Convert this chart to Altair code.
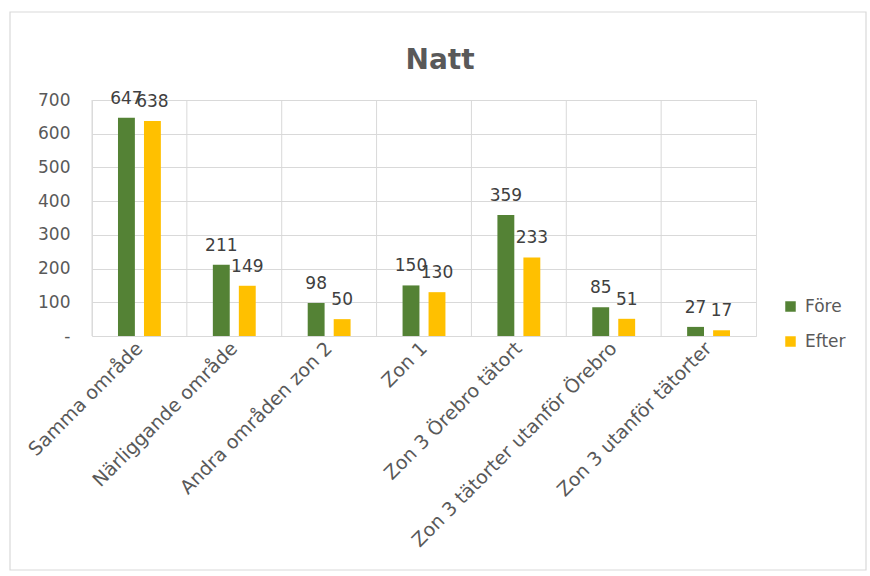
import altair as alt
import pandas as pd

categories = ["Samma område", "Närliggande område", "Andra områden zon 2", "Zon 1",
              "Zon 3 Örebro tätort", "Zon 3 tätorter utanför Örebro", "Zon 3 utanför tätorter"]
fore = [647, 211, 98, 150, 359, 85, 27]
efter = [638, 149, 50, 130, 233, 51, 17]
series = ["Före", "Efter"]
colors = ["#548235", "#FFC000"]
title_text = "Natt"

rows = []
for c, f, e in zip(categories, fore, efter):
    rows.append({"kat": c, "serie": "Före", "värde": f})
    rows.append({"kat": c, "serie": "Efter", "värde": e})
df = pd.DataFrame(rows)
cat_df = pd.DataFrame({"kat": categories})
one_df = pd.DataFrame({"t": [title_text]})

FONT = "DejaVu Sans"
GRAY = "#595959"

xscale = alt.Scale(domain=categories, paddingInner=0, paddingOuter=0)
yscale = alt.Scale(domain=[0, 700])
xoff = alt.XOffset("serie:N", sort=series,
                   scale=alt.Scale(domain=series, paddingInner=0.35, paddingOuter=1.0))

x_axis = alt.Axis(labelAngle=-45, labelAlign="right", labelBaseline="middle",
                  labelFontSize=19, labelColor=GRAY, labelFont=FONT,
                  ticks=False, domain=False, grid=False, labelPadding=9,
                  labelLimit=400)
y_axis = alt.Axis(values=[0, 100, 200, 300, 400, 500, 600, 700],
                  labelExpr="datum.value == 0 ? '-' : datum.label",
                  labelFontSize=17, labelColor=GRAY, labelFont=FONT,
                  ticks=False, domain=False, gridColor="#d9d9d9", labelPadding=22)

frame = alt.Chart(one_df).mark_rect(fill="white", fillOpacity=0, stroke="#d9d9d9",
                                    strokeWidth=1.2, clip=False).encode(
    x=alt.value(-82), x2=alt.value(774), y=alt.value(-88), y2=alt.value(470)
)

title = alt.Chart(one_df).mark_text(fontSize=28, font=FONT, fontWeight="bold", color=GRAY,
                                    align="center", baseline="alphabetic").encode(
    x=alt.value(348), y=alt.value(-31), text="t:N"
)

grid = alt.Chart(cat_df).mark_rule(color="#d9d9d9", strokeWidth=1).encode(
    x=alt.X("kat:N", sort=categories, scale=xscale, bandPosition=0, title=None, axis=x_axis)
)

bars = alt.Chart(df).mark_bar().encode(
    x=alt.X("kat:N", sort=categories, scale=xscale, title=None, axis=x_axis),
    xOffset=xoff,
    y=alt.Y("värde:Q", scale=yscale, title=None, axis=y_axis),
    color=alt.Color("serie:N", sort=series, scale=alt.Scale(domain=series, range=colors),
                    legend=alt.Legend(title=None, orient="none", legendX=690, legendY=198,
                                      symbolType="square", symbolSize=110, symbolStrokeWidth=0,
                                      labelFontSize=17, labelColor=GRAY, labelFont=FONT,
                                      rowPadding=17, labelOffset=6)),
)

labels = alt.Chart(df).mark_text(dy=-19, fontSize=17, color="#404040", font=FONT).encode(
    x=alt.X("kat:N", sort=categories, scale=xscale, title=None, axis=x_axis),
    xOffset=xoff,
    y=alt.Y("värde:Q", scale=yscale, title=None, axis=y_axis),
    text=alt.Text("värde:Q"),
)

chart = alt.layer(grid, bars, labels, frame, title).properties(
    width=664, height=236,
    padding={"left": 92, "top": 100, "right": 114, "bottom": 240},
    autosize=alt.AutoSizeParams(type="none"),
).configure_view(fill="#f3f3f3", stroke="#d9d9d9").configure(background="white")

chart.save("out.html", embed_options={"renderer": "svg", "actions": False})
